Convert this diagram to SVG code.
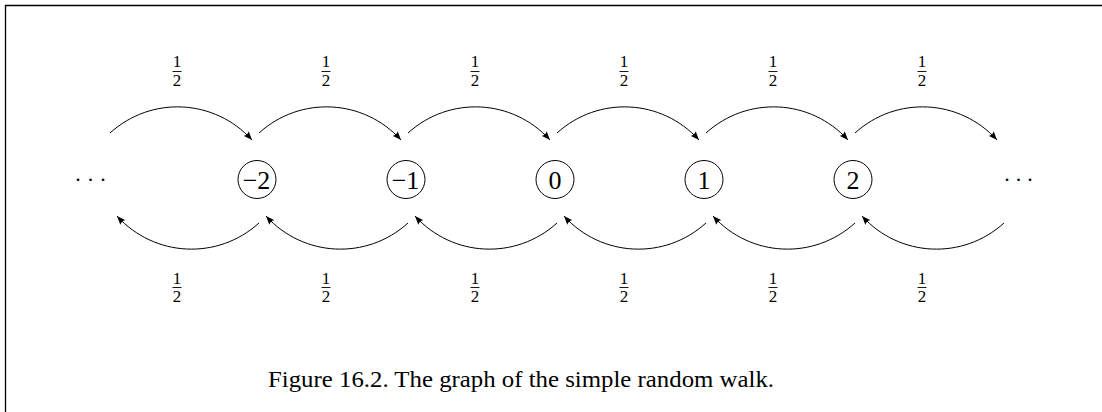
<svg xmlns="http://www.w3.org/2000/svg" width="1102" height="412" viewBox="0 0 1102 412">
<style>
.node circle{fill:#fff;stroke:#000;stroke-width:1}
.node text{font-family:"Liberation Serif","DejaVu Serif",serif;font-size:26px;text-anchor:middle;fill:#000}
.arc{fill:none;stroke:#000;stroke-width:1;marker-end:url(#ah)}
.frac text{font-family:"Liberation Serif","DejaVu Serif",serif;font-size:17px;text-anchor:middle;fill:#000}
.frac line{stroke:#000;stroke-width:0.9}
.dots{font-family:"Liberation Serif","DejaVu Serif",serif;font-size:22px;text-anchor:middle;fill:#000}
.cap{font-family:"Liberation Serif","DejaVu Serif",serif;font-size:23.5px;text-anchor:middle;fill:#000}
</style>
<defs>
<marker id="ah" viewBox="0 0 10 8" refX="10" refY="4" markerWidth="9" markerHeight="7" markerUnits="userSpaceOnUse" orient="auto">
<path d="M0,0 L10,4 L0,8 Q2.5,4 0,0 z" fill="#000"/>
</marker>
<g id="fracT" class="frac"><text x="0" y="67">1</text><line x1="-4.5" y1="71.5" x2="4.5" y2="71.5"/><text x="0" y="85.5">2</text></g>
<g id="fracB" class="frac"><text x="0" y="283.5">1</text><line x1="-4.5" y1="287.5" x2="4.5" y2="287.5"/><text x="0" y="302">2</text></g>
</defs>
<rect width="1102" height="412" fill="#fff"/>
<g id="frame" stroke="#000" stroke-width="1.3" fill="none">
<line x1="5" y1="5.5" x2="1102" y2="5.5"/>
<line x1="5.5" y1="5" x2="5.5" y2="412"/>
</g>
<g id="connectors">
<path class="arc" d="M110,133 C151.3,95.6 214.6,98.7 252,140"/>
<path class="arc" transform="translate(149,0)" d="M110,133 C151.3,95.6 214.6,98.7 252,140"/>
<path class="arc" transform="translate(298,0)" d="M110,133 C151.3,95.6 214.6,98.7 252,140"/>
<path class="arc" transform="translate(447,0)" d="M110,133 C151.3,95.6 214.6,98.7 252,140"/>
<path class="arc" transform="translate(596,0)" d="M110,133 C151.3,95.6 214.6,98.7 252,140"/>
<path class="arc" transform="translate(745,0)" d="M110,133 C151.3,95.6 214.6,98.7 252,140"/>
<path class="arc" d="M259,223 C217.7,260.4 154.4,257.3 117,216"/>
<path class="arc" transform="translate(149,0)" d="M259,223 C217.7,260.4 154.4,257.3 117,216"/>
<path class="arc" transform="translate(298,0)" d="M259,223 C217.7,260.4 154.4,257.3 117,216"/>
<path class="arc" transform="translate(447,0)" d="M259,223 C217.7,260.4 154.4,257.3 117,216"/>
<path class="arc" transform="translate(596,0)" d="M259,223 C217.7,260.4 154.4,257.3 117,216"/>
<path class="arc" transform="translate(745,0)" d="M259,223 C217.7,260.4 154.4,257.3 117,216"/>
</g>
<g id="labels">
<use href="#fracT" x="177"/><use href="#fracT" x="326"/><use href="#fracT" x="475"/><use href="#fracT" x="624"/><use href="#fracT" x="773"/><use href="#fracT" x="922"/>
<use href="#fracB" x="177"/><use href="#fracB" x="326"/><use href="#fracB" x="475"/><use href="#fracB" x="624"/><use href="#fracB" x="773"/><use href="#fracB" x="922"/>
</g>
<g id="dots-left"><text class="dots" x="78 90.5 103" y="181">...</text></g>
<g id="node-m2" class="node"><circle cx="257" cy="179.5" r="19"/><text x="256.5" y="188.5">−2</text></g>
<g id="node-m1" class="node"><circle cx="406" cy="179.5" r="19"/><text x="405.5" y="188.5">−1</text></g>
<g id="node-0" class="node"><circle cx="555" cy="179.5" r="19"/><text x="555" y="188.5">0</text></g>
<g id="node-1" class="node"><circle cx="704" cy="179.5" r="19"/><text x="704" y="188.5">1</text></g>
<g id="node-2" class="node"><circle cx="853" cy="179.5" r="19"/><text x="853" y="188.5">2</text></g>
<g id="dots-right"><text class="dots" x="1007 1018.5 1030" y="181">...</text></g>
<text class="cap" x="521" y="387" textLength="506" lengthAdjust="spacingAndGlyphs">Figure 16.2.  The graph of the simple random walk.</text>
</svg>
